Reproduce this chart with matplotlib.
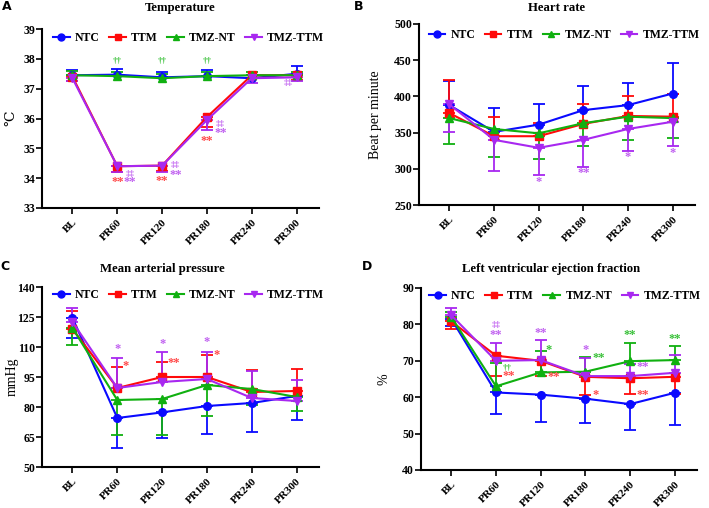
import numpy as np
import matplotlib
matplotlib.use("Agg")
import matplotlib.pyplot as plt
from matplotlib.lines import Line2D

plt.rcParams['font.family'] = ['Liberation Serif', 'DejaVu Serif']
plt.rcParams['font.weight'] = 'bold'

# time points and groups
timepoints = ["BL", "PR60", "PR120", "PR180", "PR240", "PR300"]
groups = ["NTC", "TTM", "TMZ-NT", "TMZ-TTM"]

# A: temperature (mean, error bar end)
temp_ntc = [37.45, 37.47, 37.38, 37.42, 37.35, 37.5]
temp_ntc_end = [37.62, 37.67, 37.55, 37.63, 37.45, 37.75]
temp_ttm = [37.4, 34.4, 34.42, 36.05, 37.45, 37.45]
temp_ttm_end = [37.25, 34.2, 34.25, 35.7, 37.35, 37.3]
temp_nt = [37.45, 37.42, 37.35, 37.42, 37.45, 37.45]
temp_nt_end = [37.6, 37.55, 37.5, 37.55, 37.55, 37.55]
temp_tt = [37.35, 34.4, 34.42, 35.95, 37.35, 37.38]
temp_tt_end = [37.25, 34.2, 34.22, 35.6, 37.18, 37.25]

# B: heart rate
hr_ntc = [388, 351, 361, 381, 388, 404]
hr_ntc_end = [421, 384, 389, 415, 419, 446]
hr_ttm = [377, 345, 345, 362, 373, 372]
hr_ttm_end = [423, 372, 363, 389, 400, 404]
hr_nt = [370, 355, 349, 363, 372, 370]
hr_nt_end = [334, 316, 314, 331, 340, 343]
hr_tt = [389, 340, 329, 340, 355, 365]
hr_tt_end = [351, 297, 292, 302, 325, 332]

# C: mean arterial pressure
map_ntc = [124.5, 74.5, 77.3, 80.5, 82, 85.5]
map_ntc_end = [114.5, 59.5, 64.5, 66.5, 67.5, 73.5]
map_ttm = [119, 89.5, 95, 95, 87.5, 88]
map_ttm_end = [128, 100, 102.5, 106, 98.5, 99]
map_nt = [119.5, 83.5, 84, 91, 89, 85]
map_nt_end = [111, 66, 66, 75.5, 81, 78]
map_tt = [122.5, 89.5, 92.5, 94, 84.5, 83]
map_tt_end = [129.5, 104.5, 107.5, 107.5, 98, 93.5]

# D: LVEF
ef_ntc = [81.5, 61.3, 60.7, 59.6, 58.1, 61.2]
ef_ntc_end = [79.5, 55.4, 53.3, 52.9, 50.9, 52.4]
ef_ttm = [80.8, 71.4, 70, 65.6, 65.2, 65.6]
ef_ttm_end = [78.8, 65.7, 65.7, 60.5, 60.8, 60.9]
ef_nt = [82, 63, 66.8, 67, 69.9, 70.2]
ef_nt_end = [83.5, 69.5, 72.8, 71, 74.8, 74.2]
ef_tt = [82.5, 70, 70.2, 65.8, 65.8, 66.7]
ef_tt_end = [84.5, 75, 75.7, 70.7, 69, 71.7]

# significance marks: (time index, x shift, y, text, group)
marks_a = [(1, 0, 37.94, "††", "TMZ-NT"), (2, 0, 37.94, "††", "TMZ-NT"), (3, 0, 37.94, "††", "TMZ-NT"),
           (1, 0, 33.86, "**", "TTM"), (2, 0, 33.9, "**", "TTM"), (3, 0, 35.26, "**", "TTM"),
           (1, 0.28, 34.15, "‡‡", "TMZ-TTM"), (1, 0.28, 33.86, "**", "TMZ-TTM"),
           (2, 0.3, 34.43, "‡‡", "TMZ-TTM"), (2, 0.3, 34.1, "**", "TMZ-TTM"),
           (3, 0.3, 35.8, "‡‡", "TMZ-TTM"), (3, 0.3, 35.5, "**", "TMZ-TTM"),
           (5, -0.19, 37.19, "‡‡", "TMZ-TTM")]
marks_b = [(2, 0, 282, "*", "TMZ-TTM"), (3, 0, 293.7, "**", "TMZ-TTM"),
           (4, 0, 316.7, "*", "TMZ-TTM"), (5, 0, 322.3, "*", "TMZ-TTM")]
marks_c = [(1, 0, 108.8, "*", "TMZ-TTM"), (1, 0.19, 100.3, "*", "TTM"),
           (2, 0, 111.3, "*", "TMZ-TTM"), (2, 0.25, 102.2, "**", "TTM"),
           (3, 0, 112.3, "*", "TMZ-TTM"), (3, 0.21, 105.8, "*", "TTM")]
marks_d = [(1, 0, 79.7, "‡‡", "TMZ-TTM"), (1, 0, 77.2, "**", "TMZ-TTM"),
           (1, 0.25, 68.1, "††", "TMZ-NT"), (1, 0.28, 65.7, "**", "TTM"),
           (2, 0, 77.7, "**", "TMZ-TTM"), (2, 0.18, 72.9, "*", "TMZ-NT"), (2, 0.3, 65.6, "**", "TTM"),
           (3, 0, 73.1, "*", "TMZ-TTM"), (3, 0.29, 70.9, "**", "TMZ-NT"), (3, 0.24, 60.5, "*", "TTM"),
           (4, 0, 77.0, "**", "TMZ-NT"), (4, 0.28, 68.4, "**", "TMZ-TTM"), (4, 0.28, 60.5, "**", "TTM"),
           (5, 0, 76.1, "**", "TMZ-NT")]

colors = {"NTC": "#0a0aff", "TTM": "#ff0a0a", "TMZ-NT": "#10b010", "TMZ-TTM": "#a828f0"}
mark_colors = {"TTM": "#ff4848", "TMZ-NT": "#38c038", "TMZ-TTM": "#c060f0"}
markers = {"NTC": "o", "TTM": "s", "TMZ-NT": "^", "TMZ-TTM": "v"}

fig = plt.figure(figsize=(7.09, 5.08), dpi=100)
W, H = 709, 508


def make_ax(left, top, right, bottom):
    return fig.add_axes([left / W, 1 - bottom / H, (right - left) / W, (bottom - top) / H])


def panel(ax, series, ylim, yticks, ylabel, ylab_x, leg_x, leg_y, marks):
    x = np.arange(len(timepoints))
    for g, (mean, end) in zip(groups, series):
        mean = np.array(mean, float)
        end = np.array(end, float)
        up = np.where(end > mean, end - mean, 0)
        lo = np.where(end < mean, mean - end, 0)
        ax.errorbar(x, mean, yerr=[lo, up], color=colors[g], marker=markers[g], ms=5.5,
                    lw=1.5, elinewidth=1.3, capsize=4, capthick=1.3)
    for i, dx, y, t, g in marks:
        fs = 6.5 if t[0] in "†‡" else 9
        ax.text(i + dx, y, t, color=mark_colors[g], fontsize=fs, ha='center', va='center')
    ax.set_xlim(-0.68, 5.5)
    ax.set_ylim(*ylim)
    ax.set_yticks(yticks)
    ax.set_xticks(x)
    ax.set_xticklabels(timepoints, rotation=45, ha='right', rotation_mode='anchor', fontsize=8)
    ax.tick_params(axis='y', labelsize=8.5, length=4, width=1.2, pad=1)
    ax.tick_params(axis='x', length=4, width=1.2, pad=3)
    for s in ['top', 'right']:
        ax.spines[s].set_visible(False)
    for s in ['left', 'bottom']:
        ax.spines[s].set_linewidth(1.5)
    ax.set_ylabel(ylabel, fontsize=10)
    ax.yaxis.set_label_coords(ylab_x, 0.5)
    handles = [Line2D([], [], color=colors[g], marker=markers[g], ms=5, lw=1.5) for g in groups]
    ax.legend(handles, groups, loc='upper left', bbox_to_anchor=(leg_x, leg_y), ncol=4, frameon=False,
              fontsize=8.5, handlelength=1.4, handletextpad=0.45, columnspacing=0.8,
              borderaxespad=0, borderpad=0)


ax_a = make_ax(42, 29, 319, 208)
panel(ax_a, [(temp_ntc, temp_ntc_end), (temp_ttm, temp_ttm_end), (temp_nt, temp_nt_end), (temp_tt, temp_tt_end)],
      (33, 39), range(33, 40), "℃", -0.09, 0.04, 0.985, marks_a)

ax_b = make_ax(419, 24, 695, 205)
panel(ax_b, [(hr_ntc, hr_ntc_end), (hr_ttm, hr_ttm_end), (hr_nt, hr_nt_end), (hr_tt, hr_tt_end)],
      (250, 500), range(250, 501, 50), "Beat per minute", -0.135, 0.035, 0.97, marks_b)

ax_c = make_ax(42, 287, 319, 467)
panel(ax_c, [(map_ntc, map_ntc_end), (map_ttm, map_ttm_end), (map_nt, map_nt_end), (map_tt, map_tt_end)],
      (50, 140), range(50, 141, 15), "mmHg", -0.085, 0.04, 0.99, marks_c)

ax_d = make_ax(421, 288, 697, 470)
panel(ax_d, [(ef_ntc, ef_ntc_end), (ef_ttm, ef_ttm_end), (ef_nt, ef_nt_end), (ef_tt, ef_tt_end)],
      (40, 90), range(40, 91, 10), "%", -0.11, 0.03, 0.99, marks_d)

# titles and panel letters
fig.text(180 / W, 1 - 8 / H, "Temperature", ha='center', va='center', fontsize=9.2)
fig.text(557 / W, 1 - 8 / H, "Heart rate", ha='center', va='center', fontsize=9.2)
fig.text(162 / W, 1 - 269 / H, "Mean arterial pressure", ha='center', va='center', fontsize=9.2)
fig.text(551 / W, 1 - 269 / H, "Left ventricular ejection fraction", ha='center', va='center', fontsize=9.2)
for lx, ly, t in [(7, 7, "A"), (359, 7, "B"), (5, 267, "C"), (367, 267, "D")]:
    fig.text(lx / W, 1 - ly / H, t, ha='center', va='center', fontsize=9, family='DejaVu Sans', weight='bold')

fig.savefig("out.png", dpi=100)
